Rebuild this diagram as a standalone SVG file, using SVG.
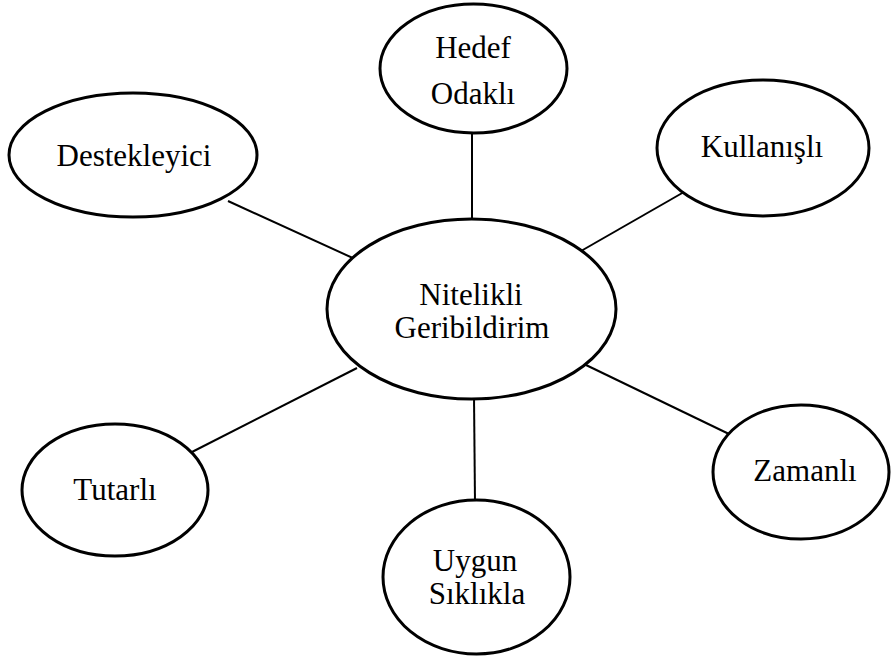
<svg xmlns="http://www.w3.org/2000/svg" width="891" height="660" viewBox="0 0 891 660">
<style>
.n{fill:#fff;stroke:#000;stroke-width:3}
.c{stroke:#000;stroke-width:2;fill:none}
text{font-family:"Liberation Serif","Times New Roman",serif;font-size:31px;fill:#000;text-anchor:middle}
</style>
<rect width="891" height="660" fill="#fff"/>
<g id="connectors">
<line class="c" x1="472" y1="130" x2="472" y2="222"/>
<line class="c" x1="228" y1="201" x2="355" y2="259"/>
<line class="c" x1="684" y1="192" x2="581" y2="251"/>
<line class="c" x1="190" y1="453" x2="357" y2="368"/>
<line class="c" x1="586" y1="365" x2="729" y2="434"/>
<line class="c" x1="474" y1="396" x2="475" y2="503"/>
</g>
<g id="center">
<ellipse class="n" cx="471.5" cy="309" rx="144.5" ry="90"/>
<text x="471" y="305">Nitelikli</text>
<text x="472" y="338">Geribildirim</text>
</g>
<g id="hedef">
<ellipse class="n" cx="473.5" cy="68.5" rx="93.5" ry="64.5"/>
<text x="473" y="58">Hedef</text>
<text x="473" y="104">Odaklı</text>
</g>
<g id="destekleyici">
<ellipse class="n" cx="133" cy="155" rx="124" ry="62"/>
<text x="134" y="166">Destekleyici</text>
</g>
<g id="kullanisli">
<ellipse class="n" cx="763" cy="148" rx="106" ry="68"/>
<text x="762" y="157">Kullanışlı</text>
</g>
<g id="tutarli">
<ellipse class="n" cx="115" cy="490" rx="93" ry="66"/>
<text x="115" y="500">Tutarlı</text>
</g>
<g id="zamanli">
<ellipse class="n" cx="801" cy="472" rx="88" ry="67"/>
<text x="805" y="481">Zamanlı</text>
</g>
<g id="uygun">
<ellipse class="n" cx="476.5" cy="577" rx="93.5" ry="77"/>
<text x="475" y="571">Uygun</text>
<text x="477" y="604">Sıklıkla</text>
</g>
</svg>
